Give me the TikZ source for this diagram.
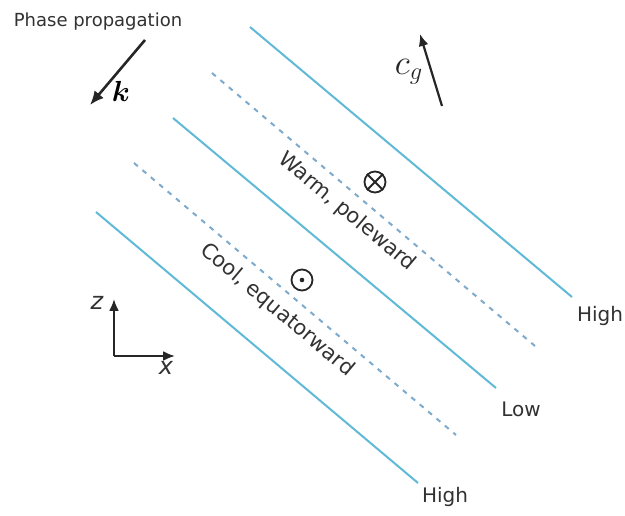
\documentclass[tikz,border=0pt]{standalone}
\usepackage{amsmath,amssymb}
\usepackage{fontspec}
\setmainfont{DejaVu Sans}
\usepackage{tikz}
\usepackage{xcolor}
\usetikzlibrary{arrows.meta}
\definecolor{frontblue}{RGB}{95,185,215}
\definecolor{dashblue}{RGB}{125,170,205}
\definecolor{labelgray}{RGB}{50,50,50}

\begin{document}
\begin{tikzpicture}[x=1pt,y=-1pt,
  every node/.style={text=labelgray,font=\fontsize{20}{24}\selectfont},
  front/.style={frontblue,line width=2pt},
  midline/.style={dashblue,line width=2pt,dash pattern=on 5pt off 6pt},
  vec/.style={-{Latex[length=14pt,width=12pt]},line width=2.6pt,black!85},
  axisvec/.style={-{Latex[length=12pt,width=10pt]},line width=2.2pt,black!85},
  symb/.style={circle,draw=black!85,line width=1.8pt,minimum size=21pt,inner sep=0pt}]
\useasboundingbox (0,0) rectangle (625,516);
\fill[white] (0,0) rectangle (625,516);
\coordinate (highA0) at (250,27);
\coordinate (highA1) at (572,297);
\coordinate (warmA0) at (212,73);
\coordinate (warmA1) at (535,346);
\coordinate (low0) at (173,118);
\coordinate (low1) at (496,388);
\coordinate (coolB0) at (134,163);
\coordinate (coolB1) at (456,435);
\coordinate (highB0) at (96,212);
\coordinate (highB1) at (418,483);
\draw[front] (highA0) -- (highA1);
\draw[midline] (warmA0) -- (warmA1);
\draw[front] (low0) -- (low1);
\draw[midline] (coolB0) -- (coolB1);
\draw[front] (highB0) -- (highB1);
\node (highAlbl) at (600,316) {High};
\node (lowlbl) at (521,409) {Low};
\node (highBlbl) at (445,497) {High};
\node[rotate=-40,font=\fontsize{21}{25}\selectfont] (warmlbl) at (347,212) {Warm, poleward};
\node[rotate=-40,font=\fontsize{21}{25}\selectfont] (coollbl) at (277,310) {Cool, equatorward};
\node[symb] (intopage) at (375,182) {};
\draw[black!85,line width=1.8pt] (intopage.north west) -- (intopage.south east)
  (intopage.north east) -- (intopage.south west);
\node[symb] (outofpage) at (302,280) {};
\fill[black!85] (outofpage.center) circle (2.3pt);
\node[font=\fontsize{18}{22}\selectfont] (phaselbl) at (98,22) {Phase propagation};
\coordinate (ktail) at (145,40);
\coordinate (khead) at (90,105);
\draw[vec] (ktail) -- (khead);
\node[text=black,font=\huge,scale=1.4] (klbl) at (121,91) {$\boldsymbol{k}$};
\coordinate (cgtail) at (442,106);
\coordinate (cghead) at (420,34);
\draw[axisvec] (cgtail) -- (cghead);
\node[text=black!85,font=\huge,scale=1.7] (cglbl) at (409,72) {$c_g$};
\coordinate (origin) at (114,356);
\coordinate (zhead) at (114,299);
\coordinate (xhead) at (175,356);
\draw[axisvec] (origin) -- (zhead);
\draw[axisvec] (origin) -- (xhead);
\node[font=\fontsize{24}{28}\selectfont\itshape] (zlbl) at (97,303) {z};
\node[font=\fontsize{24}{28}\selectfont\itshape] (xlbl) at (166,368) {x};
\end{tikzpicture}
\end{document}
